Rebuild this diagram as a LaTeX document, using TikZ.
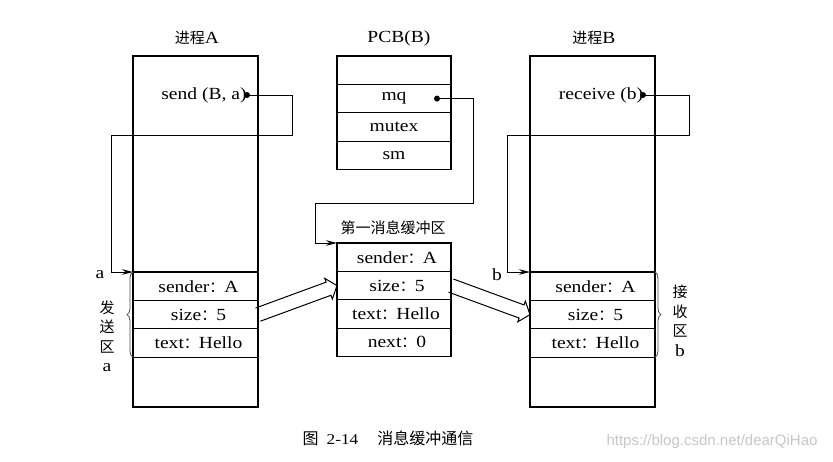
\documentclass[tikz,border=0pt]{standalone}
\usepackage{fontspec}
\setmainfont[FakeStretch=1.15]{Liberation Serif}
\newfontfamily\cjk{Noto Sans CJK SC}
\newfontfamily\wmfont{Liberation Sans}
\newcommand\zh[1]{{\cjk\fontsize{15}{19}\selectfont #1}}
\newcommand\zcol{\makebox[15pt][l]{\zh{：}}}
\usetikzlibrary{positioning,calc,arrows.meta,decorations.pathreplacing}
\tikzset{
  box/.style={draw,line width=1.3pt,minimum width=125pt,inner sep=0,outer sep=0},
  cell/.style={draw,line width=1.3pt,minimum height=28.4pt,inner sep=0,outer sep=0},
  dot/.style={circle,fill,inner sep=0,minimum size=6pt},
  link/.style={line width=1pt,-{Stealth[length=11pt,width=5.5pt]}},
  brace/.style={decorate,decoration={brace,amplitude=6pt},line width=.8pt,black!70},
}
\begin{document}
\begin{tikzpicture}[x=1pt,y=-1pt,font=\fontsize{17}{19.5}\selectfont,line join=miter]
\useasboundingbox (0,0) rectangle (833,461);
% process A
\node[box,minimum height=351pt,anchor=north west] (pA) at (133,56) {};
\node (tA) at (197,38) {\zh{进程}A};
\node (sA) at (204,95) {send (B, a)};
\node[dot] (dA) at (247,95) {};
\node[cell,minimum width=125pt,anchor=north west] (a1) at (133,272) {\hspace{6pt}sender\zcol A};
\node[cell,minimum width=125pt,below=0pt of a1] (a2) {\hspace{6pt}size\zcol 5};
\node[cell,minimum width=125pt,below=0pt of a2] (a3) {\hspace{6pt}text\zcol Hello};
% PCB(B)
\node (tP) at (399,38) {PCB(B)};
\node[cell,minimum width=114pt,anchor=north west] (p1) at (337,56) {};
\node[cell,minimum width=114pt,below=0pt of p1] (p2) {mq};
\node[cell,minimum width=114pt,below=0pt of p2] (p3) {mutex};
\node[cell,minimum width=114pt,below=0pt of p3] (p4) {sm};
\node[dot] (dq) at ($(p2.east)+(-14,0)$) {};
% first buffer
\node (tM) at (393,228) {\zh{第一消息缓冲区}};
\node[cell,minimum width=114pt,anchor=north west] (m1) at (337,243) {\hspace{6pt}sender\zcol A};
\node[cell,minimum width=114pt,below=0pt of m1] (m2) {\hspace{6pt}size\zcol 5};
\node[cell,minimum width=114pt,below=0pt of m2] (m3) {\hspace{4pt}text\zcol Hello};
\node[cell,minimum width=114pt,below=0pt of m3] (m4) {\hspace{6pt}next\zcol 0};
% process B
\node[box,minimum height=351pt,anchor=north west] (pB) at (530,56) {};
\node (tB) at (594,38) {\zh{进程}B};
\node (sB) at (601,95) {receive (b)};
\node[dot] (dB) at (643,95) {};
\node[cell,minimum width=125pt,anchor=north west] (b1) at (530,272) {\hspace{6pt}sender\zcol A};
\node[cell,minimum width=125pt,below=0pt of b1] (b2) {\hspace{6pt}size\zcol 5};
\node[cell,minimum width=125pt,below=0pt of b2] (b3) {\hspace{6pt}text\zcol Hello};
% pointers
\draw[link] (dA.center) -| (292,135) -| ($(a1.north west)+(-22,0)$) -- (a1.north west);
\draw[link] (dq.center) -| (473,203) -| ($(m1.north west)+(-22,0)$) -- (m1.north west);
\draw[link] (dB.center) -| (689,135) -| ($(b1.north west)+(-23,0)$) -- (b1.north west);
\node (la) at (100,275) {a};
\node (lb) at (497,275) {b};
% areas
\draw[brace] (a3.south west) -- (a1.north west);
\draw[brace] (b1.north east) -- (b3.south east);
\node[align=center] (sendarea) at (107,336) {\zh{发}\\\zh{送}\\\zh{区}\\a};
\node[align=center] (recvarea) at (680,321) {\zh{接}\\\zh{收}\\\zh{区}\\b};
% copy arrows
\foreach \s/\t in {a2.east/m2.west,m2.east/b2.west}{
  \coordinate (hb) at ($(\t)!9pt!(\s)$);
  \draw[line width=1pt] ($(\s)!7pt!90:(\t)$) -- ($(hb)!7pt!90:(\t)$) -- ($(hb)!11pt!90:(\t)$) -- (\t)
    -- ($(hb)!11pt!-90:(\t)$) -- ($(hb)!7pt!-90:(\t)$) -- ($(\s)!7pt!-90:(\t)$);
}
% caption
\node[font=\fontsize{15}{18}\selectfont] (cap) at (388,438) {{\cjk\fontsize{16}{19}\selectfont 图}\hspace{8pt}2-14\hspace{19pt}{\cjk\fontsize{16}{19}\selectfont 消息缓冲通信}};
\node[font=\wmfont\fontsize{15}{18}\selectfont,text=black!22] (wm) at (712,442) {https://blog.csdn.net/dearQiHao};
\end{tikzpicture}
\end{document}
